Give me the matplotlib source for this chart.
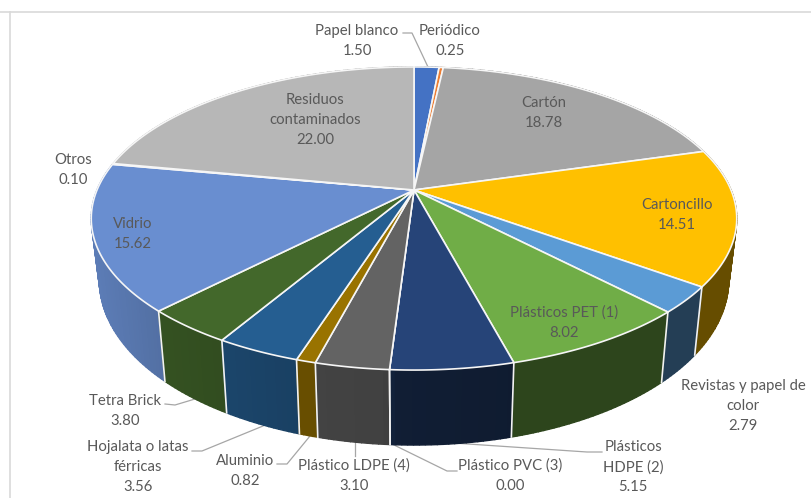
import numpy as np
import matplotlib
matplotlib.use('Agg')
import matplotlib.pyplot as plt
from matplotlib.colors import to_rgb

plt.rcParams['font.family'] = ['Lato', 'DejaVu Sans']

values = [1.50, 0.25, 18.78, 14.51, 2.79, 8.02, 5.15, 0.00, 3.10, 0.82, 3.56, 3.80, 15.62, 0.10, 22.00]
value_labels = ['1.50', '0.25', '18.78', '14.51', '2.79', '8.02', '5.15', '0.00', '3.10', '0.82', '3.56', '3.80', '15.62', '0.10', '22.00']
names = ['Papel blanco', 'Periódico', 'Cartón', 'Cartoncillo', 'Revistas y papel de\ncolor', 'Plásticos PET (1)',
         'Plásticos\nHDPE (2)', 'Plástico PVC (3)', 'Plástico LDPE (4)', 'Aluminio', 'Hojalata o latas\nférricas',
         'Tetra Brick', 'Vidrio', 'Otros', 'Residuos\ncontaminados']
colors = ['#4472C4', '#ED7D31', '#A5A5A5', '#FFC000', '#5B9BD5', '#70AD47', '#264478', '#9E480E', '#636363',
          '#997300', '#255E91', '#43682B', '#698ED0', '#F1975A', '#B7B7B7']
# centre of the first label line, in pixels
label_pos = [(357, 29), (450, 29), (544, 101), (677, 203), (743, 384), (564, 311), (633, 445), (510, 464),
             (354, 464), (245, 459), (138, 445), (125, 399), (133, 222), (73, 158), (315, 98)]
leaders = [
    [(403, 33), (412, 33), (428, 67)],
    [(165, 404), (175, 405), (195, 399)],
    [(192, 451), (202, 451), (263, 426)],
    [(277, 464), (287, 464), (310, 436)],
    [(355, 442), (355, 456)],
    [(392, 444), (447, 471), (457, 471)],
    [(453, 443), (587, 452), (602, 452)],
]

cx, cy = 414, 190
k, s, p = 317, 146.2, 0.188


def top_point(t):
    u, v = np.sin(t), -np.cos(t)
    d = 1 - p * v
    return cx + k * u / d, cy + s * v / d


def low_point(t):
    # bottom rim sits lower and a little narrower than the top rim
    x, y = top_point(t)
    return cx + (x - cx) * 0.975, y + 58 + 17 * -np.cos(t)


def shade(x):
    # side wall gets lighter to the left
    return np.interp(x, [91, 165, 300, 386, 394, 520, 737], [0.88, 0.78, 0.68, 0.65, 0.44, 0.40, 0.40])


fig = plt.figure(figsize=(8.11, 4.98), dpi=100)
ax = fig.add_axes([0, 0, 1, 1])
ax.set_xlim(0, 811)
ax.set_ylim(498, 0)
ax.axis('off')

ax.plot([0, 811], [12, 12], color='#D9D9D9', lw=1.2)
ax.plot([10, 10], [12, 498], color='#D9D9D9', lw=1.2)

edges = 2 * np.pi * np.concatenate([[0], np.cumsum(values)]) / sum(values)

# side wall, back to front
quads = []
for i in range(len(values)):
    ts = np.linspace(edges[i], edges[i + 1], max(2, int(values[i] * 4) + 2))
    for a, b in zip(ts[:-1], ts[1:]):
        quads.append(((a + b) / 2, a, b, colors[i]))
quads.sort(key=lambda q: -np.cos(q[0]))
for mid, a, b, c in quads:
    xa, ya = top_point(a)
    xb, yb = top_point(b)
    xc, yc = low_point(b)
    xd, yd = low_point(a)
    col = np.array(to_rgb(c)) * shade((xa + xb) / 2)
    ax.fill([xa, xb, xc, xd], [ya, yb, yc, yd], facecolor=col, edgecolor=col, lw=1.0, zorder=2)

# white seams on the wall
for e in edges:
    x, y = top_point(e)
    x2, y2 = low_point(e)
    if -np.cos(e) > 0.15:
        ax.plot([x, x2], [y, y2], color='#F2F2F2', lw=1.2, zorder=3)

# top face
for i in range(len(values)):
    ts = np.linspace(edges[i], edges[i + 1], 80)
    xs, ys = top_point(ts)
    ax.fill(np.r_[cx, xs], np.r_[cy, ys], facecolor=colors[i], edgecolor='#F6F6F6', lw=1.2, zorder=4)

for line in leaders:
    ax.plot(*zip(*line), color='#A6A6A6', lw=0.9, zorder=1)

for name, val, (x, y) in zip(names, value_labels, label_pos):
    n = name.count('\n') + 1
    ax.text(x, y + n * 10.3 + 1.5, name + '\n' + val, ha='center', va='center', fontsize=10.7, color='#595959',
            linespacing=1.55, zorder=6)

fig.savefig('out.png', dpi=100)
